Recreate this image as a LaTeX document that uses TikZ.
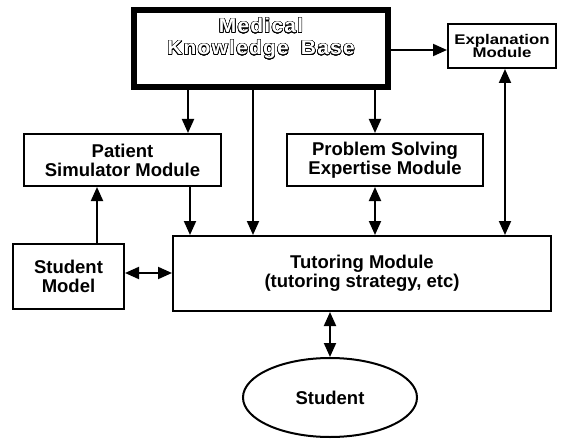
\documentclass[tikz,border=0pt]{standalone}
\usepackage{fontspec}
\setmainfont{Liberation Sans}
\newfontfamily\kbfont[FakeStretch=1.05,LetterSpace=6]{Liberation Sans}
\newfontfamily\expfont[FakeStretch=1.2]{Liberation Sans}
\usepackage[copies]{contour}
\contourlength{0.5pt}
\contournumber{24}
\usetikzlibrary{arrows.meta,shapes.geometric}
\newcommand\hollowtext[1]{\contour{black}{\textcolor{white}{#1}}}
\begin{document}
\begin{tikzpicture}[x=1pt,y=-1pt,
  font=\bfseries\fontsize{18.5}{19}\selectfont,
  box/.style={draw, line width=2pt, inner sep=0pt, align=center},
  arr/.style={line width=2pt, -{Triangle[length=14pt,width=12pt]}},
  darr/.style={line width=2pt, {Triangle[length=14pt,width=12pt]}-{Triangle[length=14pt,width=12pt]}}]
\useasboundingbox (0,0) rectangle (562,441);

% boxes
\node[box, line width=6pt, minimum width=254pt, minimum height=77pt] (kb) at (261,48.5) {};
\node[inner sep=0pt, align=center, font=\kbfont\bfseries\fontsize{20}{22}\selectfont] (kbtext) at (261,39)
  {\hollowtext{Medical}\\\hollowtext{Knowledge\hspace{0.6em}Base}};
\node[box, minimum width=108pt, minimum height=44pt, font=\expfont\bfseries\fontsize{14}{13.5}\selectfont] (exp) at (502,46) {Explanation\\Module};
\node[box, minimum width=197pt, minimum height=52pt] (pat) at (122.5,160) {Patient\\Simulator Module};
\node[box, minimum width=196pt, minimum height=52pt] (prob) at (385,160) {Problem Solving\\Expertise Module};
\node[box, minimum width=111pt, minimum height=65pt] (sm) at (68.5,276.5) {Student\\Model};
\node[box, minimum width=378pt, minimum height=75pt] (tut) at (362,273.5) {Tutoring Module\\(tutoring strategy, etc)};
\node[draw, line width=2pt, ellipse, inner sep=0pt, minimum width=174pt, minimum height=79pt] (stu) at (330,397.5) {Student};

% reference positions
\coordinate (xa) at (188,0);
\coordinate (xb) at (253,0);
\coordinate (xc) at (375,0);
\coordinate (xd) at (505,0);
\coordinate (xe) at (190,0);
\coordinate (xf) at (97,0);
\coordinate (xg) at (330,0);
\coordinate (ya) at (0,50);
\coordinate (yb) at (0,273);

% connectors
\draw[arr] (kb.south -| xa) -- (pat.north -| xa);
\draw[arr] (kb.south -| xb) -- (tut.north -| xb);
\draw[arr] (kb.south -| xc) -- (prob.north -| xc);
\draw[arr] (kb.east |- ya) -- (exp.west |- ya);
\draw[darr] (exp.south -| xd) -- (tut.north -| xd);
\draw[arr] (pat.south -| xe) -- (tut.north -| xe);
\draw[arr] (sm.north -| xf) -- (pat.south -| xf);
\draw[darr] (prob.south -| xc) -- (tut.north -| xc);
\draw[darr] (sm.east |- yb) -- (tut.west |- yb);
\draw[darr] (tut.south -| xg) -- (stu.north);
\end{tikzpicture}
\end{document}
